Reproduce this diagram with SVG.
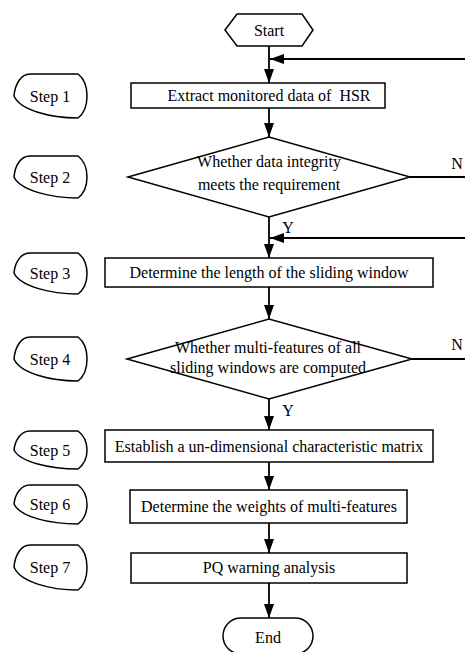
<svg xmlns="http://www.w3.org/2000/svg" width="465" height="652" viewBox="0 0 465 652">
<defs>
<style>
.s{fill:#fff;stroke:#000;stroke-width:1.5}
.t{font-family:"Liberation Serif","Times New Roman",serif;font-size:16px;fill:#000;text-anchor:middle;white-space:pre}
.c{fill:none;stroke:#000;stroke-width:1.8}
</style>
<marker id="ahl" viewBox="0 0 14 10" refX="14" refY="5" markerWidth="14" markerHeight="10" markerUnits="userSpaceOnUse" orient="auto">
<path d="M0,0 L14,5 L0,10 Z" fill="#000"/>
</marker>
</defs>
<rect width="465" height="652" fill="#fff"/>
<g id="connectors">
<line class="c" x1="269" y1="46" x2="269" y2="83" marker-end="url(#ahl)"/>
<line class="c" x1="465" y1="59" x2="270" y2="59" marker-end="url(#ahl)"/>
<line class="c" x1="269" y1="108" x2="269" y2="137" marker-end="url(#ahl)"/>
<line class="c" x1="410" y1="177" x2="465" y2="177"/>
<line class="c" x1="269" y1="217" x2="269" y2="258" marker-end="url(#ahl)"/>
<line class="c" x1="465" y1="238" x2="270" y2="238" marker-end="url(#ahl)"/>
<line class="c" x1="269" y1="287" x2="269" y2="319" marker-end="url(#ahl)"/>
<line class="c" x1="412" y1="359" x2="465" y2="359"/>
<line class="c" x1="269" y1="399" x2="269" y2="430" marker-end="url(#ahl)"/>
<line class="c" x1="269" y1="462" x2="269" y2="490" marker-end="url(#ahl)"/>
<line class="c" x1="269" y1="523" x2="269" y2="553" marker-end="url(#ahl)"/>
<line class="c" x1="269" y1="583" x2="269" y2="618" marker-end="url(#ahl)"/>
<text class="t" x="457" y="169">N</text>
<text class="t" x="457" y="350">N</text>
<text class="t" x="288" y="233">Y</text>
<text class="t" x="288" y="416">Y</text>
</g>
<g id="start">
<path class="s" d="M225,30 L237,14 L302,14 L313,30 L302,46 L237,46 Z"/>
<text class="t" x="269" y="36">Start</text>
</g>
<g id="box1">
<rect class="s" x="131" y="83" width="254" height="25"/>
<text class="t" x="269" y="101" xml:space="preserve">Extract monitored data of  HSR</text>
</g>
<g id="dec1">
<path class="s" d="M128,177 L269,137 L410,177 L269,217 Z"/>
<text class="t" x="269" y="167">Whether data integrity</text>
<text class="t" x="269" y="190">meets the requirement</text>
</g>
<g id="box2">
<rect class="s" x="105" y="258" width="328" height="29"/>
<text class="t" x="269" y="278">Determine the length of the sliding window</text>
</g>
<g id="dec2">
<path class="s" d="M127,359 L269,319 L412,359 L269,399 Z"/>
<text class="t" x="268" y="353">Whether multi-features of all</text>
<text class="t" x="268" y="373">sliding windows are computed</text>
</g>
<g id="box3">
<rect class="s" x="105" y="430" width="328" height="32"/>
<text class="t" x="269" y="452">Establish a un-dimensional characteristic matrix</text>
</g>
<g id="box4">
<rect class="s" x="130" y="490" width="277" height="33"/>
<text class="t" x="269" y="512">Determine the weights of multi-features</text>
</g>
<g id="box5">
<rect class="s" x="131" y="553" width="276" height="30"/>
<text class="t" x="269" y="573">PQ warning analysis</text>
</g>
<g id="end">
<rect class="s" x="223" y="618" width="90" height="36" rx="18" ry="18"/>
<text class="t" x="268" y="643">End</text>
</g>
<g id="step1">
<path class="s" d="M30,74 L78,74 C90,83 90,109 78,118 C50,118 20,110 14,96 C15,84 21,74 30,74 Z"/>
<text class="t" x="50" y="102">Step 1</text>
</g>
<g id="step2">
<path class="s" d="M30,156 L78,156 C90,165 90,189 78,198 C50,198 20,190 14,177 C15,165 21,156 30,156 Z"/>
<text class="t" x="50" y="183">Step 2</text>
</g>
<g id="step3">
<path class="s" d="M30,253 L78,253 C90,262 90,285 78,294 C50,294 20,286 14,273 C15,262 21,253 30,253 Z"/>
<text class="t" x="50" y="279">Step 3</text>
</g>
<g id="step4">
<path class="s" d="M30,337 L78,337 C90,346 90,372 78,381 C50,381 20,373 14,359 C15,347 21,337 30,337 Z"/>
<text class="t" x="50" y="365">Step 4</text>
</g>
<g id="step5">
<path class="s" d="M30,431 L78,431 C90,440 90,460 78,469 C50,469 20,462 14,450 C15,440 21,431 30,431 Z"/>
<text class="t" x="50" y="456">Step 5</text>
</g>
<g id="step6">
<path class="s" d="M30,485 L78,485 C90,494 90,515 78,524 C50,524 20,517 14,504 C15,494 21,485 30,485 Z"/>
<text class="t" x="50" y="510">Step 6</text>
</g>
<g id="step7">
<path class="s" d="M30,545 L78,545 C90,554 90,581 78,590 C50,590 20,582 14,567 C15,555 21,545 30,545 Z"/>
<text class="t" x="50" y="573">Step 7</text>
</g>
</svg>
